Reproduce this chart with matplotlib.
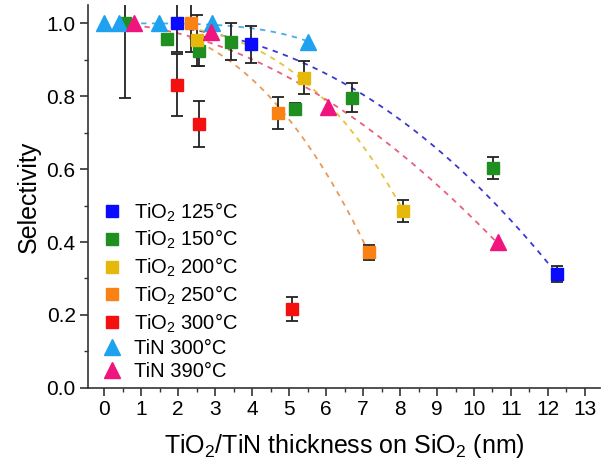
import numpy as np
import matplotlib
import matplotlib.pyplot as plt
from matplotlib.ticker import MultipleLocator

plt.rcParams['font.family'] = ['Liberation Sans', 'DejaVu Sans']
plt.rcParams['mathtext.fontset'] = 'custom'
plt.rcParams['mathtext.rm'] = 'Liberation Sans'
plt.rcParams['mathtext.it'] = 'Liberation Sans'

# data: thickness (nm), selectivity, error
TIO2_125_X = [1.97, 3.98, 12.25]
TIO2_125_Y = [1.0, 0.942, 0.311]
TIO2_125_E = [0.08, 0.05, 0.022]

TIO2_150_X = [0.57, 1.70, 2.56, 3.42, 5.17, 6.71, 10.51]
TIO2_150_Y = [1.0, 0.956, 0.923, 0.950, 0.766, 0.796, 0.603]
TIO2_150_E = [0.205, 0.012, 0.04, 0.05, 0.015, 0.04, 0.03]

TIO2_200_X = [2.50, 5.41, 8.08]
TIO2_200_Y = [0.953, 0.851, 0.485]
TIO2_200_E = [0.07, 0.045, 0.03]

TIO2_250_X = [2.34, 4.69, 7.17]
TIO2_250_Y = [1.0, 0.754, 0.372]
TIO2_250_E = [0.08, 0.043, 0.02]

TIO2_300_X = [1.97, 2.56, 5.09]
TIO2_300_Y = [0.832, 0.724, 0.215]
TIO2_300_E = [0.085, 0.062, 0.033]

TIN_300_X = [0.0, 0.40, 1.48, 2.93, 5.52]
TIN_300_Y = [1.0, 1.0, 1.0, 1.0, 0.95]

TIN_390_X = [0.81, 2.88, 6.04, 10.64]
TIN_390_Y = [1.0, 0.975, 0.77, 0.40]

LABELS = ['TiO$_2$ 125°C', 'TiO$_2$ 150°C', 'TiO$_2$ 200°C',
          'TiO$_2$ 250°C', 'TiO$_2$ 300°C', 'TiN 300°C', 'TiN 390°C']

# x range of each fitted trend line
FIT_125 = [2.0, 12.25]
FIT_200 = [2.3, 8.08]
FIT_250 = [2.3, 7.17]
FIT_TIN300 = [1.0, 5.52]
FIT_TIN390 = [0.8, 10.64]


def fit_curve(x, y, xr):
    '''
    Least squares fit of y = 1 - a*x^n, scanning n, and return a smooth
    curve over the range xr.
    '''
    x = np.array(x)
    d = 1 - np.array(y)
    best = None
    for n in np.linspace(1.5, 4, 101):
        xn = x ** n
        a = np.sum(xn * d) / np.sum(xn * xn)
        err = np.sum((d - a * xn) ** 2)
        if best is None or err < best[0] - 1e-12:
            best = (err, a, n)
    _, a, n = best
    xs = np.linspace(xr[0], xr[1], 100)
    return xs, 1 - a * xs ** n


fig = plt.figure(figsize=(6.04, 4.65), dpi=100)
ax = fig.add_axes([0.146, 0.166, 0.847, 0.823])

# trend lines
for x, y, xr, c in [(TIO2_125_X, TIO2_125_Y, FIT_125, '#3a3ad0'),
                    (TIO2_200_X, TIO2_200_Y, FIT_200, '#e8c23a'),
                    (TIO2_250_X, TIO2_250_Y, FIT_250, '#e89a5a'),
                    (TIN_300_X, TIN_300_Y, FIT_TIN300, '#4aaee8'),
                    (TIN_390_X, TIN_390_Y, FIT_TIN390, '#e8607a')]:
    xs, ys = fit_curve(x, y, xr)
    ax.plot(xs, ys, ls=(0, (3, 3)), color=c, lw=1.3, zorder=1)

square_sets = [(TIO2_125_X, TIO2_125_Y, TIO2_125_E, '#0a0aff'),
               (TIO2_150_X, TIO2_150_Y, TIO2_150_E, '#1f8f1f'),
               (TIO2_200_X, TIO2_200_Y, TIO2_200_E, '#e6b80c'),
               (TIO2_250_X, TIO2_250_Y, TIO2_250_E, '#fa8214'),
               (TIO2_300_X, TIO2_300_Y, TIO2_300_E, '#f51010')]

handles = []
for x, y, e, c in square_sets:
    ax.errorbar(x, y, yerr=e, fmt='none', ecolor='#222222', elinewidth=1.3,
                capsize=4, capthick=1.3, zorder=2)
    h, = ax.plot(x, y, 's', color=c, ms=9, mec=c, zorder=3, ls='none')
    handles.append(h)

h, = ax.plot(TIN_300_X, TIN_300_Y, '^', color='#1ea2f0', ms=11, zorder=3,
             ls='none')
handles.append(h)
h, = ax.plot(TIN_390_X, TIN_390_Y, '^', color='#f0147f', ms=11, zorder=3,
             ls='none')
handles.append(h)

ax.set_xlim(-0.43, 13.4)
ax.set_ylim(0, 1.05)
ax.xaxis.set_major_locator(MultipleLocator(1))
ax.xaxis.set_minor_locator(MultipleLocator(0.5))
ax.yaxis.set_major_locator(MultipleLocator(0.2))
ax.yaxis.set_minor_locator(MultipleLocator(0.1))
ax.spines['top'].set_visible(False)
ax.spines['right'].set_visible(False)
for s in ['left', 'bottom']:
    ax.spines[s].set_linewidth(1.2)
    ax.spines[s].set_color('#333333')
ax.tick_params(which='major', length=6, width=1.2, color='#333333',
               labelsize=15, pad=3)
ax.tick_params(which='minor', length=3, width=1.0, color='#333333')
ax.yaxis.set_major_formatter(matplotlib.ticker.FormatStrFormatter('%.1f'))

ax.set_xlabel('TiO$_2$/TiN thickness on SiO$_2$ (nm)', fontsize=18,
              labelpad=9)
ax.set_ylabel('Selectivity', fontsize=18, labelpad=4)

ax.legend(handles, LABELS, loc='lower left', bbox_to_anchor=(-0.005, -0.02),
          frameon=False, fontsize=14.5, handletextpad=0.5, labelspacing=0.22,
          handlelength=1.2, borderaxespad=0.3)

fig.savefig('out.png', dpi=100)
